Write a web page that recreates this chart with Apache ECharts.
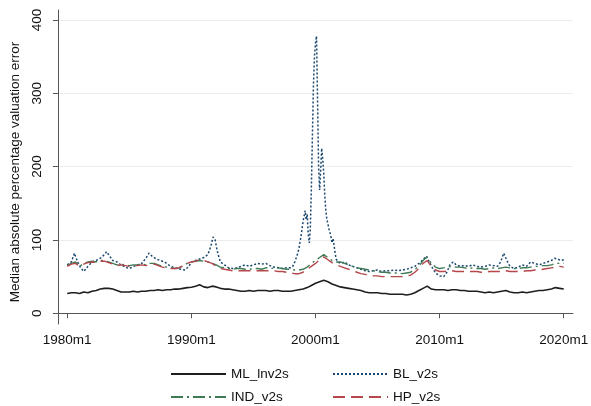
<!DOCTYPE html>
<html>
<head>
<meta charset="utf-8">
<script src="https://cdn.jsdelivr.net/npm/echarts@6/dist/echarts.min.js"></script>
<style>
  html, body { margin: 0; padding: 0; background: #fff; }
  #chart { width: 591px; height: 406px; }
</style>
</head>
<body>
<div id="chart"></div>
<script>
// monthly data, one value every 4 months from 1980m1 to 2020m1
const startYear = 1980;
const stepMonths = 4;

const mlValues = [
  27, 28, 28, 27, 29, 28, 30, 31, 33, 34, 34, 33,
  31, 29, 29, 29, 30, 29, 30, 30, 31, 31, 32, 31,
  32, 32, 33, 33, 34, 35, 35.5, 37, 39, 36, 35, 37,
  36, 34, 33, 33, 32, 31, 30, 30, 31, 30, 31, 31,
  31, 30, 31, 31, 30, 30, 30, 31, 32, 33, 35, 38,
  41, 43, 45, 43, 40, 38, 36, 35, 34, 33, 32, 31,
  29, 28, 28, 28, 27, 27, 26, 26, 26, 26, 25, 26,
  28, 31, 34, 37, 33, 32, 32, 32, 31, 32, 32, 31,
  31, 30, 30, 30, 29, 28, 29, 28, 29, 30, 31, 29,
  28, 28, 29, 28, 29, 30, 31, 31, 32, 33, 35, 34,
  33
];

const indValues = [
  65, 68, 70, 64, 68, 70, 71, 70, 72, 72, 70, 68,
  66, 67, 66, 65, 66, 66, 67, 66, 68, 68, 66, 64,
  63, 62, 61, 62, 65, 68, 70, 71, 72, 71, 70, 68,
  66, 63, 62, 61, 60, 61, 61, 60, 60, 61, 61, 60,
  62, 62, 61, 62, 61, 60, 60, 59, 59, 60, 63, 68,
  72, 76, 80, 76, 72, 70, 70, 68, 66, 64, 62, 61,
  60, 59, 58, 57, 56, 56, 55, 55, 55, 54, 55, 56,
  60, 64, 72, 77, 68, 63, 61, 62, 63, 64, 63, 63,
  62, 61, 62, 61, 61, 60, 61, 62, 61, 62, 63, 62,
  61, 61, 62, 62, 63, 64, 64, 65, 65, 66, 68, 68,
  68
];

const hpValues = [
  64, 67, 68, 64, 67, 69, 70, 69, 71, 71, 69, 67,
  65, 66, 65, 64, 65, 65, 66, 65, 67, 67, 65, 63,
  62, 61, 61, 62, 65, 68, 70, 71, 73, 72, 70, 68,
  64, 61, 60, 59, 58, 58, 58, 58, 58, 58, 58, 58,
  58, 58, 58, 57, 57, 56, 55, 54, 54, 56, 60, 64,
  68, 73, 77, 73, 69, 66, 64, 62, 60, 58, 56, 54,
  53, 52, 51, 51, 50, 50, 50, 50, 50, 50, 51, 52,
  56, 61, 68, 72, 64, 59, 57, 57, 58, 58, 57, 57,
  57, 57, 57, 57, 56, 56, 57, 57, 57, 57, 58, 57,
  57, 57, 57, 58, 58, 59, 59, 60, 61, 62, 63, 64,
  63
];

// BL is read more densely around the 2000 spike (month index from 1980m1)
const blMonths = [
  0, 4, 7, 10, 13, 16, 20, 24, 28, 32, 36, 38, 41, 44, 48, 52, 56, 60, 64, 68,
  72, 76, 79, 82, 86, 90, 94, 98, 102, 106, 110, 114, 118, 120, 124, 128, 132, 136, 139, 141,
  143, 145, 148, 152, 156, 160, 164, 168, 172, 176, 180, 184, 188, 192, 196, 200, 204, 208, 212, 216,
  218, 220, 222, 224, 226, 228, 230, 231, 232, 233, 234, 235, 236, 237, 238, 239, 240, 241, 242, 243,
  244, 245, 246, 247, 248, 249, 250, 251, 252, 253, 254, 255, 256, 257, 258, 259, 260, 262, 264, 268,
  272, 276, 280, 284, 288, 292, 296, 300, 304, 308, 312, 316, 320, 324, 328, 332, 336, 340, 344, 347,
  350, 353, 356, 360, 364, 367, 370, 373, 376, 380, 384, 388, 392, 396, 400, 404, 408, 412, 416, 419,
  422, 425, 428, 432, 436, 440, 444, 448, 452, 456, 460, 464, 468, 471, 474, 477, 480
];
const blValues = [
  66, 70, 82, 70, 62, 57, 64, 70, 72, 75, 80, 84, 78, 72, 70, 66, 63, 61, 64, 66,
  68, 75, 82, 78, 74, 72, 70, 66, 63, 61, 60, 59, 65, 70, 72, 74, 76, 80, 92, 104,
  100, 85, 70, 66, 62, 61, 62, 64, 66, 64, 66, 68, 67, 68, 65, 63, 62, 61, 62, 62,
  64, 70, 78, 88, 105, 125, 140, 128, 135, 108, 96, 115, 170, 240, 310, 350, 368, 378, 290, 200,
  168, 195, 225, 210, 190, 160, 140, 128, 122, 115, 110, 104, 96, 102, 92, 82, 74, 70, 68, 70,
  66, 64, 62, 60, 58, 57, 58, 59, 57, 58, 58, 59, 58, 59, 60, 62, 64, 68, 73, 78,
  70, 62, 55, 51, 50, 56, 66, 70, 66, 64, 65, 64, 66, 64, 63, 64, 66, 65, 64, 70,
  82, 72, 64, 61, 63, 66, 64, 70, 68, 66, 68, 70, 72, 75, 74, 72, 73
];

const yTicks = [0, 100, 200, 300, 400];
const xTicks = [1980, 1990, 2000, 2010, 2020];

function toYear(m) {
  return startYear + m / 12;
}
function evenSeries(values) {
  return values.map((v, i) => [toYear(i * stepMonths), v]);
}
const blData = blMonths.map((m, i) => [toYear(m), blValues[i]]);

const chart = echarts.init(document.getElementById('chart'));
const font = 'Liberation Sans, Arial, sans-serif';

// one legend per entry so the two columns line up like the original
function legendAt(name, left, top) {
  return {
    data: [name],
    left: left,
    top: top,
    padding: 0,
    itemWidth: 55,
    itemHeight: 14,
    itemStyle: { opacity: 0 },
    textStyle: { fontFamily: font, fontSize: 13.5, color: '#111' }
  };
}

chart.setOption({
  animation: false,
  backgroundColor: '#fff',
  grid: { left: 50, right: 16, top: 10, bottom: 82 },
  legend: [
    legendAt('ML_lnv2s', 170, 367),
    legendAt('BL_v2s', 332, 367),
    legendAt('IND_v2s', 170, 390),
    legendAt('HP_v2s', 332, 390)
  ],
  xAxis: {
    type: 'value',
    min: 1979.249,
    max: 2020.735,
    axisLine: { lineStyle: { color: '#555', width: 1 } },
    axisTick: { show: true, customValues: xTicks, length: 5, lineStyle: { color: '#555' } },
    axisLabel: {
      customValues: xTicks,
      formatter: (v) => v + 'm1',
      fontFamily: font,
      fontSize: 13.5,
      color: '#111',
      margin: 9
    },
    splitLine: { show: false }
  },
  yAxis: {
    type: 'value',
    min: -14.6,
    max: 413.5,
    name: 'Median absolute percentage valuation error',
    nameLocation: 'middle',
    nameGap: 30,
    nameTextStyle: { fontFamily: font, fontSize: 13.5, color: '#111', padding: [0, 10, 0, 0] },
    axisLine: { show: true, lineStyle: { color: '#555', width: 1 } },
    axisTick: { show: true, customValues: yTicks, length: 5, lineStyle: { color: '#555' } },
    axisLabel: {
      customValues: yTicks,
      rotate: 90,
      fontFamily: font,
      fontSize: 13.5,
      color: '#111',
      margin: 14
    },
    splitLine: { show: true, customValues: yTicks, lineStyle: { color: '#ececec', width: 1 } }
  },
  series: [
    {
      name: 'ML_lnv2s',
      type: 'line',
      data: evenSeries(mlValues),
      symbol: 'none',
      lineStyle: { color: '#1e1e1e', width: 1.6, type: 'solid' },
      itemStyle: { color: '#1e1e1e' }
    },
    {
      name: 'BL_v2s',
      type: 'line',
      data: blData,
      symbol: 'none',
      lineStyle: { color: '#1a476f', width: 1.5, type: [2, 2] },
      itemStyle: { color: '#1a476f' }
    },
    {
      name: 'IND_v2s',
      type: 'line',
      data: evenSeries(indValues),
      symbol: 'none',
      lineStyle: { color: '#3f7a55', width: 1.4, type: [12, 4, 2, 4] },
      itemStyle: { color: '#3f7a55' }
    },
    {
      name: 'HP_v2s',
      type: 'line',
      data: evenSeries(hpValues),
      symbol: 'none',
      lineStyle: { color: '#b5474d', width: 1.4, type: [12, 6] },
      itemStyle: { color: '#b5474d' }
    }
  ]
});
</script>
</body>
</html>
